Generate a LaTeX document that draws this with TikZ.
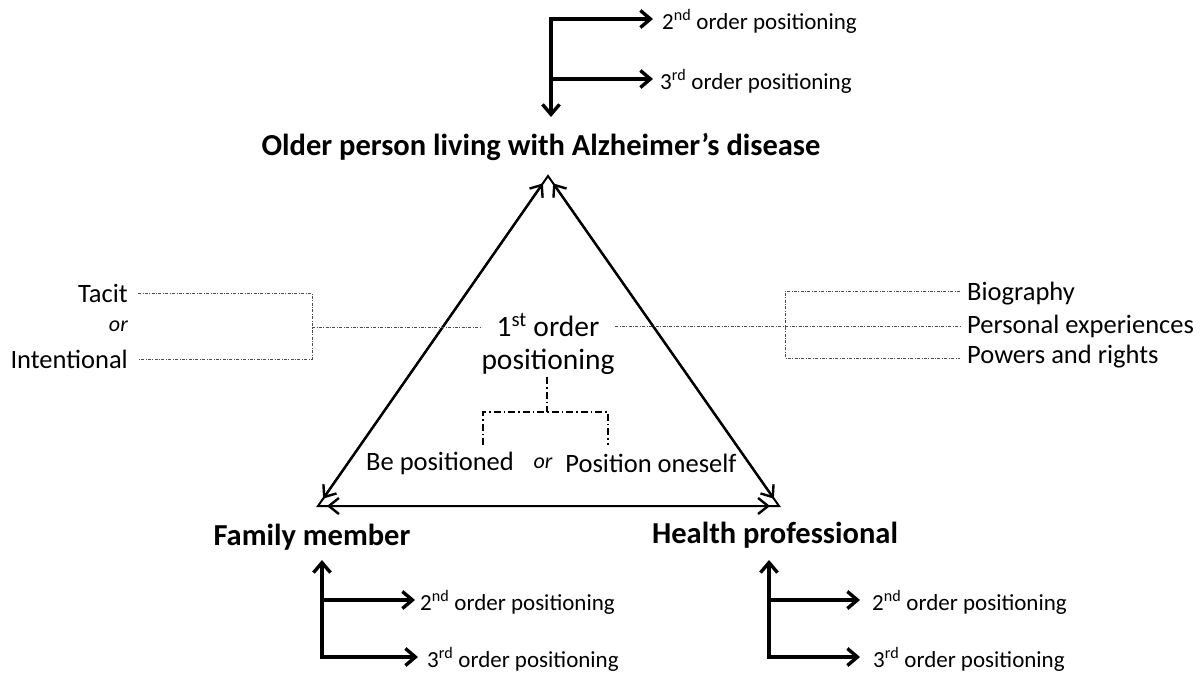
\documentclass[tikz,border=0pt]{standalone}
\usepackage{fontspec}
\setmainfont{Carlito}
\usetikzlibrary{arrows.meta}
\begin{document}
\begin{tikzpicture}[x=1pt,y=-1pt,
  thickarr/.style={line width=3.4pt,{Straight Barb[length=10pt,width=17pt]}-{Straight Barb[length=10pt,width=17pt]}},
  thickone/.style={line width=3.4pt,-{Straight Barb[length=10pt,width=17pt]}},
  tri/.style={line width=2pt},
  triarr/.style={line width=2.4pt,{Straight Barb[length=10pt,width=16pt]}-{Straight Barb[length=10pt,width=16pt]},shorten <=9pt,shorten >=9pt},
  finedash/.style={line width=0.8pt,black!70,dash pattern=on 3pt off 1.5pt on 0.8pt off 1.5pt},
  cdash/.style={line width=1.6pt,dash pattern=on 7pt off 3pt on 1.5pt off 3pt},
  lbl/.style={inner sep=0pt,font=\fontsize{23}{26}\selectfont},
  side/.style={inner sep=0pt,font=\fontsize{26.5}{30}\selectfont},
  sideor/.style={inner sep=0pt,font=\fontsize{22}{26}\selectfont\itshape},
  head/.style={inner sep=0pt,font=\fontsize{30.5}{34}\selectfont\bfseries}]
\useasboundingbox (0,0) rectangle (1202,675);
% top
\coordinate (tc) at (551,19);
\coordinate (tm) at (551,79);
\coordinate (tb) at (551,117);
\coordinate (t2tip) at (653,19);
\coordinate (t3tip) at (653,79);
\draw[thickarr] (t2tip) -- (tc) -- (tb);
\draw[thickone] (tm) -- (t3tip);
\node[lbl,anchor=west] (t2) at (662,21) {2\textsuperscript{nd} order positioning};
\node[lbl,anchor=west] (t3) at (660,81) {3\textsuperscript{rd} order positioning};
\node[head] (older) at (541,147) {Older person living with Alzheimer’s disease};
% triangle
\coordinate (A) at (548,176);
\coordinate (B) at (318,506);
\coordinate (C) at (779,506);
\draw[tri,line join=miter] (A) -- (B) -- (C) -- cycle;
\draw[triarr] (A) -- (B);
\draw[triarr] (B) -- (C);
\draw[triarr] (C) -- (A);
\node[head] (fam) at (312,537) {Family member};
\node[head] (hp) at (775,535) {Health professional};
% center
\node[inner sep=0pt,align=center,font=\fontsize{29.5}{33}\selectfont] (ctr) at (548,344) {1\textsuperscript{st} order\\positioning};
\coordinate (c0) at (547,377);
\coordinate (c1) at (547,412);
\coordinate (cl) at (483,412);
\coordinate (cr) at (608,412);
\coordinate (cld) at (483,445);
\coordinate (crd) at (608,445);
\draw[cdash] (c0) -- (c1);
\draw[cdash] (cld) -- (cl) -- (cr) -- (crd);
\node[side] (bep) at (440,463) {Be positioned};
\node[sideor] (oor) at (543,463) {or};
\node[side] (pos) at (651,463) {Position oneself};
% left
\node[side,anchor=east] (tacit) at (128,293) {Tacit};
\node[sideor,anchor=east] (lor) at (128,326) {or};
\node[side,anchor=east] (int) at (128,359) {Intentional};
\coordinate (l1) at (138,293);
\coordinate (l2) at (312,293);
\coordinate (l3) at (312,359);
\coordinate (l4) at (138,359);
\coordinate (lm) at (312,327);
\coordinate (lm2) at (482,327);
\draw[finedash] (l1) -- (l2) -- (l3) -- (l4);
\draw[finedash] (lm) -- (lm2);
% right
\node[side,anchor=west] (bio) at (967,294) {Biography};
\node[side,anchor=west] (pers) at (967,326) {Personal experiences};
\node[side,anchor=west] (pow) at (967,357) {Powers and rights};
\coordinate (r1) at (960,291);
\coordinate (r2) at (785,291);
\coordinate (r3) at (785,358);
\coordinate (r4) at (960,358);
\coordinate (rm) at (615,326);
\coordinate (rm2) at (960,326);
\draw[finedash] (r1) -- (r2) -- (r3) -- (r4);
\draw[finedash] (rm) -- (rm2);
% bottom left
\coordinate (blt) at (322,560);
\coordinate (blc) at (322,657);
\coordinate (blm) at (322,600);
\coordinate (bl3) at (418,657);
\coordinate (bl2) at (415,600);
\draw[thickarr] (blt) -- (blc) -- (bl3);
\draw[thickone] (blm) -- (bl2);
\node[lbl,anchor=west] (bl2t) at (420,602) {2\textsuperscript{nd} order positioning};
\node[lbl,anchor=west] (bl3t) at (427,659) {3\textsuperscript{rd} order positioning};
% bottom right
\coordinate (brt) at (769,560);
\coordinate (brc) at (769,657);
\coordinate (brm) at (769,600);
\coordinate (br3) at (860,657);
\coordinate (br2) at (860,600);
\draw[thickarr] (brt) -- (brc) -- (br3);
\draw[thickone] (brm) -- (br2);
\node[lbl,anchor=west] (br2t) at (872,602) {2\textsuperscript{nd} order positioning};
\node[lbl,anchor=west] (br3t) at (873,659) {3\textsuperscript{rd} order positioning};
\end{tikzpicture}
\end{document}
